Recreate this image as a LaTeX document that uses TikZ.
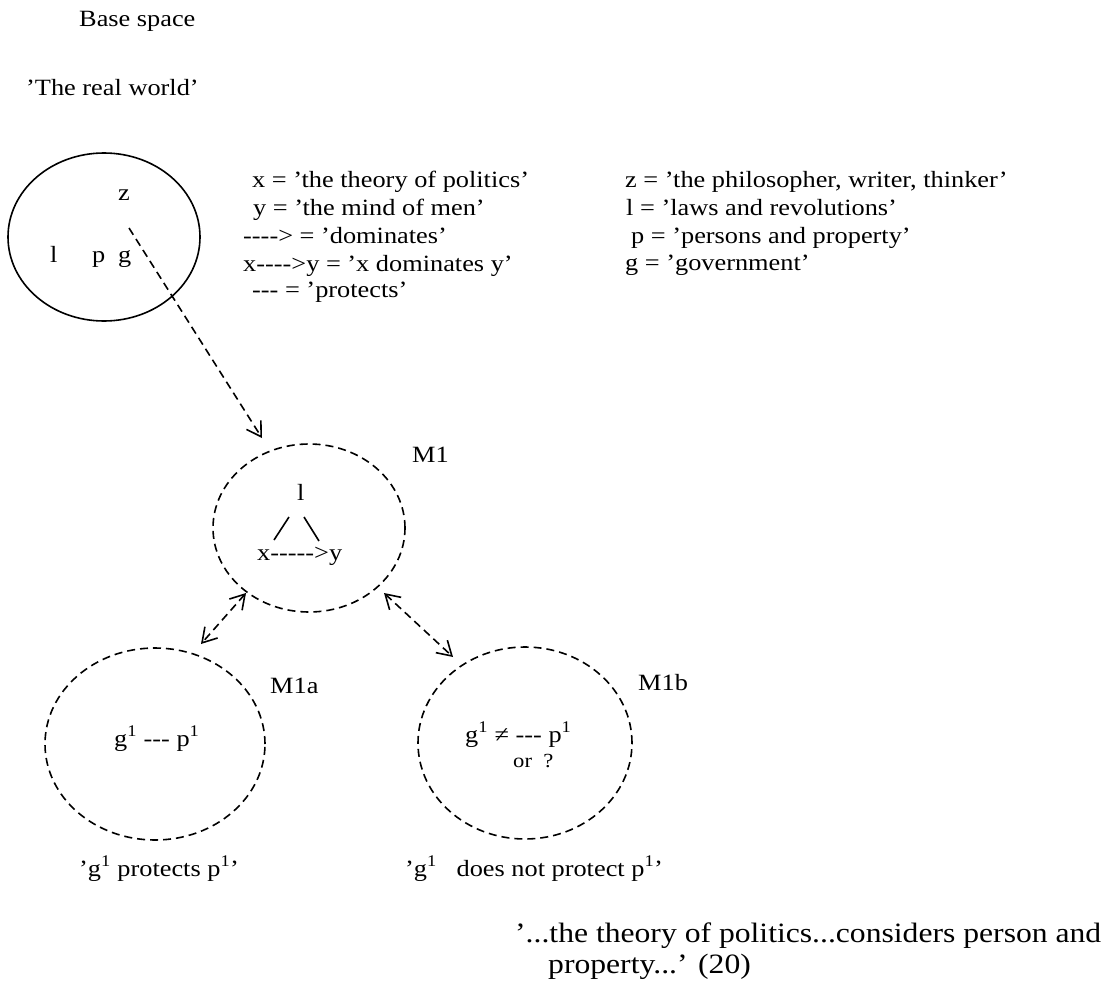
\documentclass[tikz,border=0pt]{standalone}
\usepackage{fontspec}
\setmainfont[FakeStretch=1.13]{Liberation Serif}
\usetikzlibrary{shapes.geometric,arrows.meta}
\newcommand\sps{\textsuperscript{1}}
\begin{document}
\begin{tikzpicture}[x=1pt,y=-1pt,
  txt/.style={anchor=base west, inner sep=0pt, font=\fontsize{23.3}{27.5}\selectfont},
  big/.style={txt, font=\fontsize{28}{31}\selectfont},
  sml/.style={txt, font=\fontsize{20}{24}\selectfont},
  sp/.style={ellipse, draw, line width=1.6pt, inner sep=0pt},
  dsp/.style={sp, dash pattern=on 8pt off 5pt},
  link/.style={line width=1.6pt, dash pattern=on 8pt off 5pt},
  tip/.style={-{Straight Barb[length=14pt,width=17pt,line width=1.6pt]}},
  tiptwo/.style={{Straight Barb[length=14pt,width=17pt,line width=1.6pt]}-{Straight Barb[length=14pt,width=17pt,line width=1.6pt]}},
  stroke/.style={line width=1.6pt}]
\useasboundingbox (0,0) rectangle (1109,985);

% headings
\node[txt] (hbase) at (79,27) {Base space};
\node[txt] (hreal) at (26,95) {'The real world'};

% legend column 1
\node[txt] (lx) at (252,187) {x = 'the theory of politics'};
\node[txt] (ly) at (253,215) {y = 'the mind of men'};
\node[txt] (ld) at (243,243) {-{}-{}-{}-> = 'dominates'};
\node[txt] (lxy) at (243,271) {x-{}-{}-{}->y = 'x dominates y'};
\node[txt] (lp) at (252,297) {-{}-{}- = 'protects'};

% legend column 2
\node[txt] (lz) at (625,187) {z = 'the philosopher, writer, thinker'};
\node[txt] (ll) at (626,215) {l = 'laws and revolutions'};
\node[txt] (lpp) at (631,243) {p = 'persons and property'};
\node[txt] (lg) at (625,270) {g = 'government'};

% base space circle
\node[sp, minimum width=192pt, minimum height=168pt] (base) at (104,237) {};
\node[txt] (bz) at (118,200) {z};
\node[txt] (bl) at (50,262) {l};
\node[txt] (bp) at (92,262) {p};
\node[txt] (bg) at (118,262) {g};

% M1
\node[dsp, minimum width=192pt, minimum height=168pt] (m1) at (309,528) {};
\node[txt] (m1lab) at (412,462) {M1};
\node[txt] (m1l) at (297,500) {l};
\node[txt] (m1xy) at (257,560) {x-{}-{}-{}-{}->y};
\coordinate (sa) at (289,517);
\coordinate (sb) at (274,540);
\coordinate (bsa) at (304,517);
\coordinate (bsb) at (319,541);
\draw[stroke] (sa) -- (sb);
\draw[stroke] (bsa) -- (bsb);

% M1a
\node[dsp, minimum width=220pt, minimum height=192pt] (m1a) at (155,744) {};
\node[txt] (m1alab) at (270,693) {M1a};
\node[txt] (m1atxt) at (114,746) {g\sps{} -{}-{}- p\sps};
\node[txt] (m1acap) at (79,876) {'g\sps{} protects p\sps'};

% M1b
\node[dsp, minimum width=214pt, minimum height=192pt] (m1b) at (525,743) {};
\node[txt] (m1blab) at (638,690) {M1b};
\node[txt] (m1btxt) at (465,742) {g\sps{} ≠ -{}-{}- p\sps};
\node[sml] (m1bor) at (513,767) {or\ \ ?};
\node[txt] (m1bcap) at (405,876) {'g\sps\ \ \ does not protect p\sps'};

% quote
\node[big] (q1) at (515,942) {'...the theory of politics...considers person and};
\node[big] (q2) at (548,973) {property...' (20)};

% connectors
\coordinate (zs) at (129,228);
\coordinate (m1in) at (262,438);
\draw[link, tip] (zs) -- (m1in);
\coordinate (a1) at (246,593);
\coordinate (a2) at (201,644);
\draw[link, tiptwo] (a1) -- (a2);
\coordinate (b1) at (384,593);
\coordinate (b2) at (453,657);
\draw[link, tiptwo] (b1) -- (b2);
\end{tikzpicture}
\end{document}
